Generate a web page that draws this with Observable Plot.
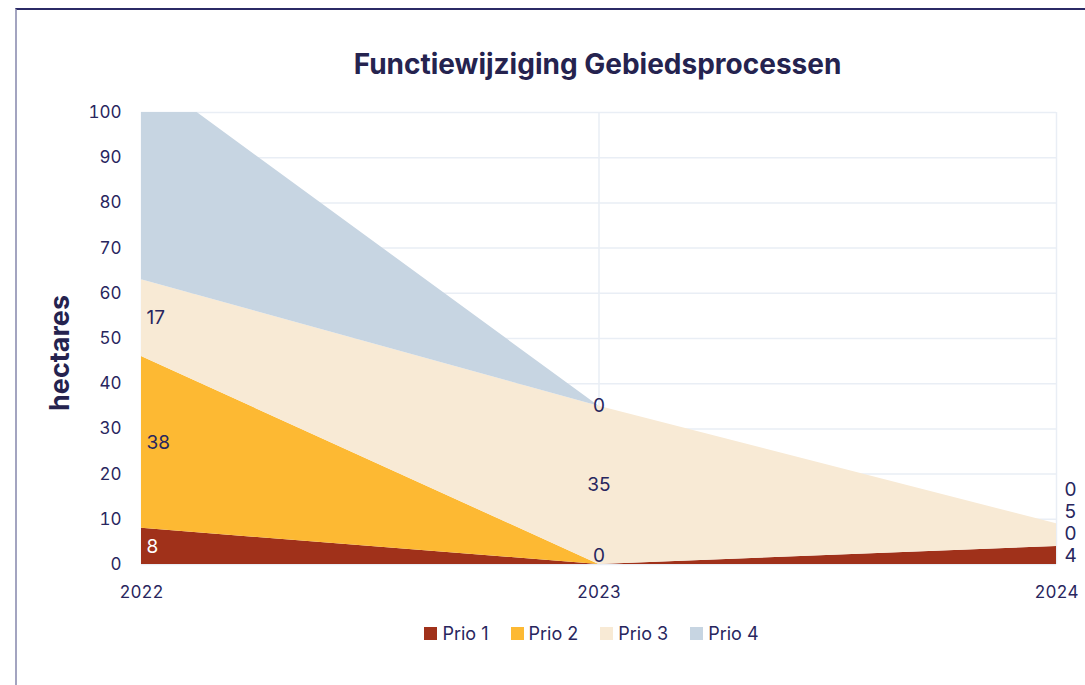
<!DOCTYPE html>
<html>
<head>
<meta charset="utf-8">
<script src="https://cdn.jsdelivr.net/npm/d3@7"></script>
<script src="https://cdn.jsdelivr.net/npm/@observablehq/plot@0.6"></script>
<style>
  html, body { margin: 0; padding: 0; background: #fff; }
  body { width: 1085px; height: 685px; position: relative; overflow: hidden; font-family: Inter, "Liberation Sans", Arial, sans-serif; color: #28265e; }
  #frame { position: absolute; left: 15px; top: 8px; width: 1200px; height: 800px; border-left: 2px solid #a3a4c0; border-top: 2px solid #2b2a66; box-sizing: border-box; }
  #title { position: absolute; left: 0; width: 1195px; top: 47px; text-align: center; font-size: 28px; font-weight: bold; color: #25234f; }
  #ylab { position: absolute; left: 59px; top: 353px; transform: translate(-50%, -50%) rotate(-90deg); font-size: 27px; font-weight: bold; color: #25234f; white-space: nowrap; }
  #chart { position: absolute; left: 0; top: 92px; }
  #legend { position: absolute; left: 0; width: 1183px; top: 623px; display: flex; justify-content: center; gap: 22px; font-size: 18px; }
  .item { display: flex; align-items: center; gap: 5px; }
  .sw { width: 13px; height: 13px; display: inline-block; }
</style>
</head>
<body>
<div id="frame"></div>
<div id="title">Functiewijziging Gebiedsprocessen</div>
<div id="ylab">hectares</div>
<div id="chart"></div>
<div id="legend"></div>
<script>
const years = [2022, 2023, 2024];
const series = ["Prio 1", "Prio 2", "Prio 3", "Prio 4"];
const prio1 = [8, 0, 4];
const prio2 = [38, 0, 0];
const prio3 = [17, 35, 5];
const prio4 = [46, 0, 0];
const colors = ["#a0311a", "#fdb933", "#f8ead5", "#c7d5e2"];
const yTicks = [0, 10, 20, 30, 40, 50, 60, 70, 80, 90, 100];

const navy = "#28265e";
const font = "Inter, 'Liberation Sans', Arial, sans-serif";
const valuesBySeries = [prio1, prio2, prio3, prio4];
const data = [];
series.forEach((s, i) => years.forEach((yr, j) => data.push({year: yr, prio: s, value: valuesBySeries[i][j]})));

// labels at stack midpoints
const yMax = 100;
const labels = [];
years.forEach((yr, j) => {
  let cum = 0;
  const col = [];
  series.forEach((s, i) => {
    const v = valuesBySeries[i][j];
    const lo = cum, hi = cum + v;
    cum = hi;
    if (hi > yMax) return; // label would fall outside the visible frame
    const y = Math.min(Math.max((lo + hi) / 2, 2), yMax);
    // skip a label identical to one already drawn at the same spot
    if (j < years.length - 1 && col.some(c => c.y === y && c.value === v)) return;
    col.push({year: yr, prio: s, value: v, y,
      pos: j === 0 ? "first" : (j === years.length - 1 ? "last" : "mid"),
      fill: (s === "Prio 1" && v > 0 && j < years.length - 1) ? "#ffffff" : navy});
  });
  if (j === years.length - 1) {
    for (let k = 1; k < col.length; k++) col[k].y = Math.max(col[k].y, col[k - 1].y + 4.8);
  }
  labels.push(...col);
});

const chart = Plot.plot({
  width: 1085,
  height: 520,
  marginTop: 20,
  marginBottom: 48,
  marginLeft: 141,
  marginRight: 29,
  style: {fontSize: "17px", fontFamily: font, color: navy, background: "transparent"},
  x: {domain: [2022, 2024], ticks: years, tickFormat: d => String(d), label: null, tickSize: 0, tickPadding: 21},
  y: {domain: [0, 100], ticks: yTicks, label: null, tickSize: 0, tickPadding: 20},
  color: {domain: series, range: colors},
  marks: [
    Plot.gridY(yTicks, {stroke: "#e9eef5", strokeOpacity: 1, strokeWidth: 1.5}),
    Plot.gridX(years, {stroke: "#e9eef5", strokeOpacity: 1, strokeWidth: 1.5}),
    Plot.areaY(data, {x: "year", y: "value", fill: "prio", z: "prio", clip: true}),
    Plot.text(labels.filter(d => d.pos === "first"), {x: "year", y: "y", text: d => String(d.value), fill: "fill", textAnchor: "start", dx: 5, fontSize: 19}),
    Plot.text(labels.filter(d => d.pos === "mid"), {x: "year", y: "y", text: d => String(d.value), fill: "fill", textAnchor: "middle", fontSize: 19}),
    Plot.text(labels.filter(d => d.pos === "last"), {x: "year", y: "y", text: d => String(d.value), fill: "fill", textAnchor: "start", dx: 8, fontSize: 19})
  ]
});
document.getElementById("chart").appendChild(chart);

const legend = document.getElementById("legend");
series.forEach((s, i) => {
  const it = document.createElement("div");
  it.className = "item";
  const sw = document.createElement("span");
  sw.className = "sw";
  sw.style.background = colors[i];
  const tx = document.createElement("span");
  tx.textContent = s;
  it.appendChild(sw); it.appendChild(tx);
  legend.appendChild(it);
});
</script>
</body>
</html>
